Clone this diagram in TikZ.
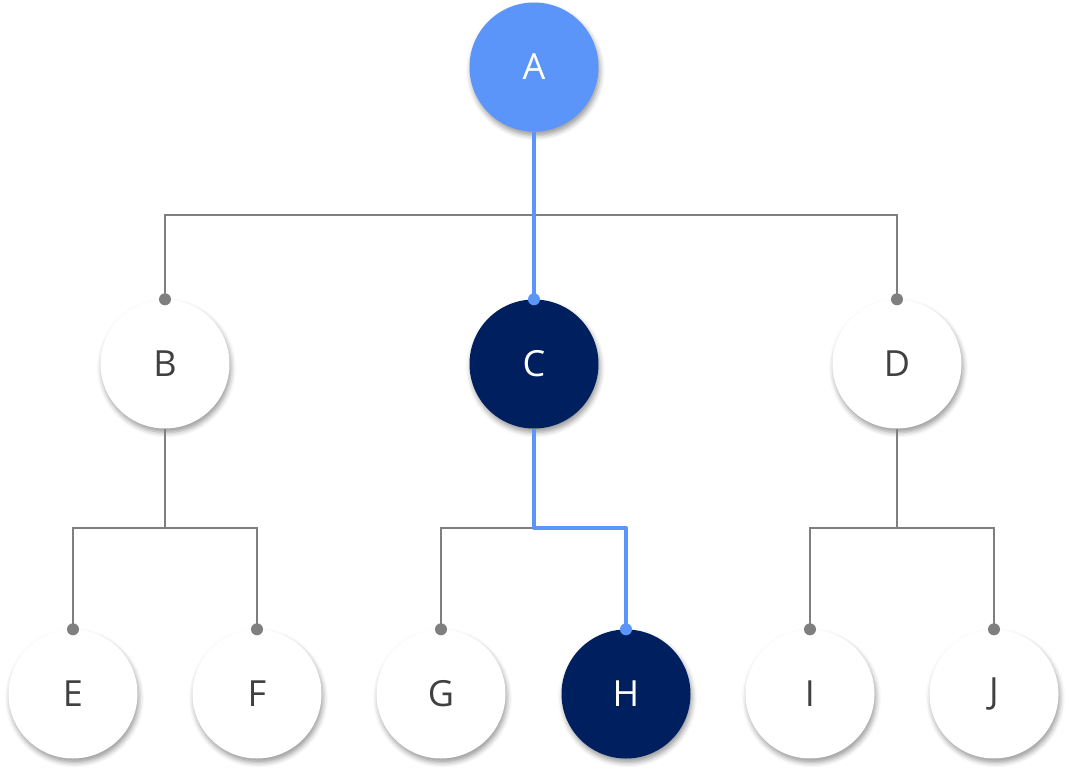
\documentclass[tikz,border=0pt]{standalone}
\usepackage{fontspec}
\setmainfont{Open Sans}
\usetikzlibrary{shadows.blur}
\definecolor{abl}{HTML}{5B95F9}
\definecolor{navy}{HTML}{001F5F}
\definecolor{lgray}{HTML}{7F7F7F}
\definecolor{txt}{HTML}{404040}
\tikzset{
  nd/.style={circle, minimum size=129pt, inner sep=0pt, fill=white, text=txt,
    font=\fontsize{36}{40}\selectfont,
    blur shadow={shadow xshift=1.5pt, shadow yshift=-4pt, shadow blur radius=5pt, shadow opacity=40}},
  ndblue/.style={nd, fill=abl, text=white},
  ndnavy/.style={nd, fill=navy, text=white},
  gl/.style={draw=lgray, line width=2pt},
  bl/.style={draw=abl, line width=4pt},
  gdot/.style={fill=lgray},
  bdot/.style={fill=abl}
}
\begin{document}
\begin{tikzpicture}[x=1pt,y=-1pt]
\useasboundingbox (0,0) rectangle (1069,774);
\coordinate (busA) at (534,215);
\coordinate (busB) at (165,528);
\coordinate (busC) at (534,528);
\coordinate (busD) at (897,528);
\path (534,67) coordinate (pA);
\path (165,364) coordinate (pB) (534,364) coordinate (pC) (897,364) coordinate (pD);
\path (73,694) coordinate (pE) (257,694) coordinate (pF) (441,694) coordinate (pG)
      (626,694) coordinate (pH) (810,694) coordinate (pI) (994,694) coordinate (pJ);

\node[ndblue] (A) at (pA) {A};
\node[nd] (B) at (pB) {B};
\node[ndnavy] (C) at (pC) {C};
\node[nd] (D) at (pD) {D};
\node[nd] (E) at (pE) {E};
\node[nd] (F) at (pF) {F};
\node[nd] (G) at (pG) {G};
\node[ndnavy] (H) at (pH) {H};
\node[nd] (I) at (pI) {I};
\node[nd] (J) at (pJ) {J};

% level 1
\draw[gl] (B.north) -- (B.north |- busA) -- (D.north |- busA) -- (D.north);
\draw[bl] (A.south) -- (C.north);
\fill[gdot] (B.north) circle (6pt);
\fill[gdot] (D.north) circle (6pt);
\fill[bdot] (C.north) circle (6pt);

% B subtree
\draw[gl] (B.south) -- (busB);
\draw[gl] (E.north) -- (E.north |- busB) -- (F.north |- busB) -- (F.north);
\fill[gdot] (E.north) circle (6pt);
\fill[gdot] (F.north) circle (6pt);

% C subtree
\draw[gl] (G.north) -- (G.north |- busC) -- (busC);
\draw[bl, line join=round] (C.south) -- (busC) -- (H.north |- busC) -- (H.north);
\fill[gdot] (G.north) circle (6pt);
\fill[bdot] (H.north) circle (6pt);

% D subtree
\draw[gl] (D.south) -- (busD);
\draw[gl] (I.north) -- (I.north |- busD) -- (J.north |- busD) -- (J.north);
\fill[gdot] (I.north) circle (6pt);
\fill[gdot] (J.north) circle (6pt);
\end{tikzpicture}
\end{document}
